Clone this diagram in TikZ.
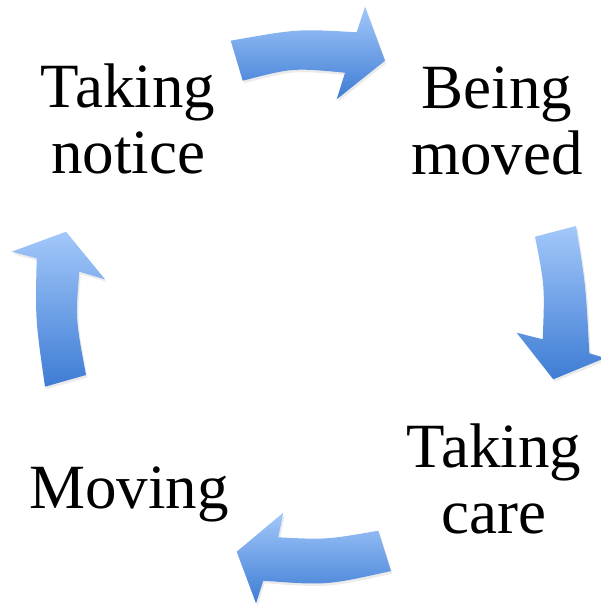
\documentclass[tikz,border=0pt]{standalone}
\usepackage{fontspec}
\setmainfont{Liberation Serif}
\definecolor{arrowtop}{RGB}{163,200,250}
\definecolor{arrowbot}{RGB}{62,124,212}
\begin{document}
\begin{tikzpicture}[x=1pt,y=-1pt,
  lbl/.style={font=\fontsize{63}{66}\selectfont, align=center, inner sep=0pt, anchor=base},
  arrowfill/.style={top color=arrowtop, bottom color=arrowbot},
  arrowshadow/.style={fill=black, fill opacity=0.08, shift={(1.5,2.5)}}]
\useasboundingbox (0,0) rectangle (600,607);
\fill[white] (0,0) rectangle (600,607);
% arrow shapes
\def\toparrow{(230.7,40.7) .. controls (298,28.8) .. (356.7,32.3) -- (365,6.7) -- (385,60.7) -- (336.7,99.3) -- (345,72.7) .. controls (292.7,67.8) .. (242.7,80.7) -- cycle}
\def\rightarrow{(535,236.7) -- (576,226) .. controls (585.8,285.7) .. (589.3,353.3) -- (605,358) -- (553.3,379.3) -- (516.7,332.7) -- (542.7,339.3) .. controls (544.8,286.3) .. (535,236.7) -- cycle}
\def\bottomarrow{(378.3,530.7) .. controls (326.2,539.7) .. (278.3,537.3) -- (283.3,512.7) -- (236.7,551.7) -- (256,603.3) -- (263.3,580.7) .. controls (326.5,585.4) .. (391,571) -- cycle}
\def\leftarrow{(45,386.7) -- (86,375) .. controls (75.5,318.9) .. (79.3,271.7) -- (105,279.3) -- (66,231.7) -- (11.7,251.7) -- (36.7,258.3) .. controls (35.3,319.2) .. (45,386.7) -- cycle}
\foreach \p in {\toparrow,\rightarrow,\bottomarrow,\leftarrow}{
  \fill[arrowshadow] \p;
  \shade[arrowfill] \p;
}
% labels (anchor = baseline of the last line)
\node[lbl] (notice) at (128,173) {Taking\\notice};
\node[lbl] (moved) at (497,174) {Being\\moved};
\node[lbl] (care) at (494,533) {Taking\\care};
\node[lbl] (moving) at (129,508) {Moving};
\end{tikzpicture}
\end{document}
